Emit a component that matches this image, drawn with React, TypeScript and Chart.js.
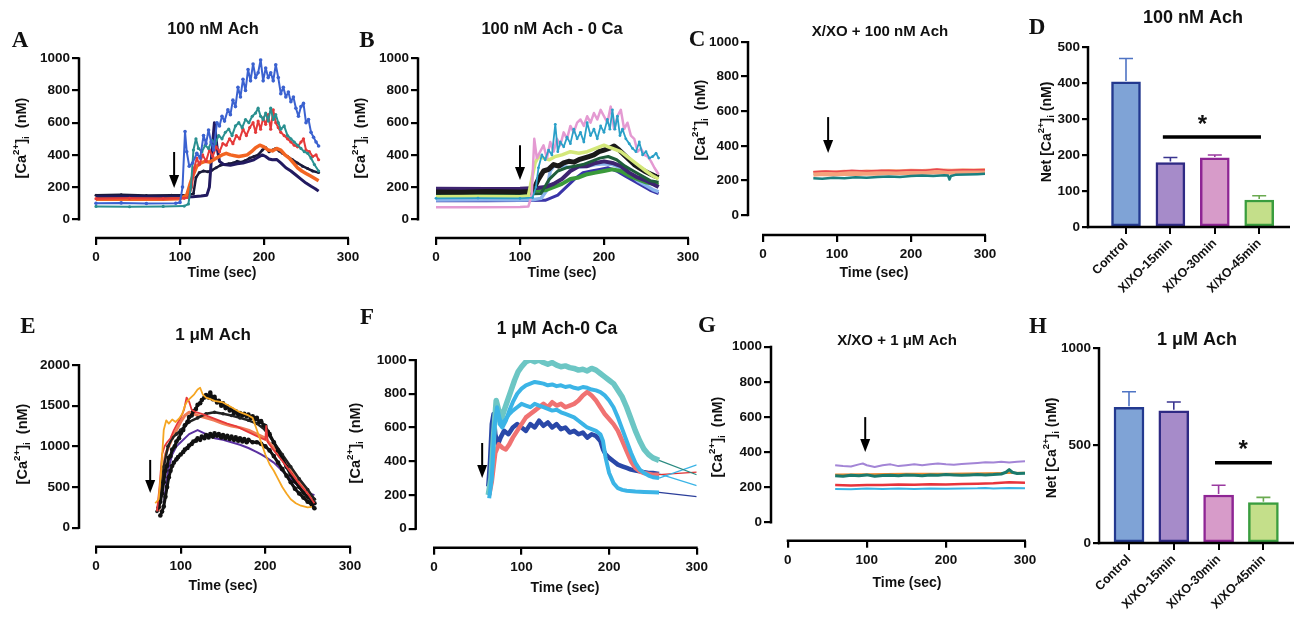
import React, { useEffect, useRef } from 'react';
import { Chart, registerables } from 'chart.js';

Chart.register(...registerables);
Chart.defaults.font.family = '"Liberation Sans", Arial, Helvetica, sans-serif';
Chart.defaults.color = '#111';

type Pt = [number, number];

// ---------------- Panel A : 100 nM Ach ----------------
const aBlue: Pt[] = [[0,100],[30,102],[60,98],[95,100],[100,105],[103,200],[106,545],[108,420],[111,330],[115,350],[120,410],[124,380],[128,520],[131,470],[134,555],[137,480],[140,430],[144,600],[147,580],[150,640],[153,610],[157,680],[160,650],[163,740],[166,700],[169,820],[172,760],[175,870],[178,800],[181,930],[184,860],[187,965],[190,880],[193,910],[196,990],[199,860],[202,940],[205,880],[208,910],[211,860],[214,960],[217,880],[220,780],[223,820],[226,760],[229,790],[232,730],[235,760],[238,690],[241,640],[244,700],[247,720],[250,600],[253,620],[256,540],[259,510],[262,480],[265,455]];
const aTeal: Pt[] = [[0,80],[40,78],[80,80],[105,82],[110,95],[113,200],[116,430],[119,500],[122,440],[126,420],[130,460],[134,440],[138,490],[142,470],[146,520],[150,500],[154,540],[158,560],[162,520],[166,580],[170,600],[174,570],[178,620],[182,600],[186,640],[190,660],[193,690],[196,640],[199,620],[202,660],[205,610],[208,690],[211,620],[214,650],[217,600],[220,560],[224,580],[228,520],[232,500],[236,480],[240,460],[244,440],[248,420],[252,410],[256,380],[260,340],[265,300]];
const aRed: Pt[] = [[0,128],[40,130],[80,128],[105,130],[110,135],[114,200],[117,320],[120,380],[123,340],[127,400],[131,360],[135,430],[139,390],[143,450],[147,420],[151,470],[155,460],[159,500],[163,470],[167,520],[171,500],[175,560],[179,520],[183,570],[187,600],[190,540],[193,610],[196,560],[199,630],[202,590],[205,650],[208,560],[211,680],[214,600],[217,570],[220,540],[224,520],[228,500],[232,480],[236,460],[240,450],[244,480],[247,500],[250,430],[254,420],[258,390],[262,400],[265,370]];
const aOrange: Pt[] = [[0,125],[40,125],[80,125],[100,128],[108,150],[112,220],[116,280],[120,330],[125,350],[130,360],[135,355],[140,370],[145,385],[150,400],[155,410],[160,400],[165,395],[170,390],[175,395],[180,400],[185,420],[190,445],[195,460],[200,450],[205,430],[210,425],[215,440],[220,430],[225,400],[230,380],[235,350],[240,320],[245,300],[250,285],[255,270],[260,255],[265,240]];
const aNavy: Pt[] = [[0,140],[40,140],[80,138],[105,138],[115,140],[125,145],[132,150],[135,200],[138,420],[141,600],[144,450],[147,360],[152,340],[160,335],[168,345],[175,350],[182,360],[188,370],[193,385],[198,400],[202,390],[206,375],[210,370],[215,372],[220,350],[226,320],[232,300],[238,275],[244,250],[250,225],[256,205],[261,190],[265,175]];
const aBlack: Pt[] = [[0,150],[30,152],[60,148],[90,150],[110,150],[116,160],[119,260],[123,290],[128,300],[133,295],[138,305],[143,320],[148,335],[153,340],[158,345],[163,350],[168,360],[173,355],[178,365],[183,380],[188,390],[193,400],[198,430],[202,445],[206,420],[210,430],[214,440],[218,425],[222,410],[228,390],[234,370],[240,350],[246,330],[252,315],[258,300],[265,290]];
const aArrow = [93, 418, 194];

// ---------------- Panel B : 100 nM Ach - 0 Ca ----------------
const bPink: Pt[] = [[0,75],[50,75],[100,76],[110,80],[114,150],[117,500],[120,380],[124,420],[128,460],[132,380],[136,480],[140,420],[144,500],[148,460],[152,540],[156,500],[160,580],[164,540],[168,600],[172,620],[176,580],[180,640],[184,600],[188,660],[192,620],[196,680],[200,640],[204,600],[208,700],[212,560],[216,640],[220,680],[224,560],[228,600],[232,520],[236,500],[240,420],[244,440],[248,400],[252,390],[256,360],[260,320],[265,280]];
const bCyan: Pt[] = [[0,130],[50,132],[100,130],[115,135],[119,200],[122,320],[126,400],[130,370],[134,430],[138,400],[142,590],[145,420],[148,480],[152,450],[156,510],[160,470],[164,560],[168,500],[172,540],[176,480],[180,600],[184,520],[188,560],[192,500],[196,580],[200,540],[204,620],[207,560],[210,680],[213,560],[216,640],[219,520],[222,560],[226,500],[230,470],[234,440],[238,420],[242,480],[246,400],[250,420],[254,380],[258,390],[262,410],[265,380]];
const bLime: Pt[] = [[0,140],[50,142],[100,140],[110,145],[114,250],[118,350],[122,390],[128,380],[135,370],[142,390],[150,400],[160,420],[170,410],[180,420],[190,440],[200,460],[205,450],[210,440],[220,420],[230,380],[240,340],[250,300],[258,270],[265,250]];
const bBlack: Pt[] = [[0,170],[30,168],[60,172],[100,170],[115,172],[122,250],[128,300],[134,310],[140,340],[146,330],[152,350],[158,360],[164,355],[170,370],[176,380],[182,390],[188,400],[194,420],[200,430],[206,440],[212,455],[218,430],[224,400],[230,370],[236,340],[242,320],[248,300],[254,285],[260,270],[265,260]];
const bDarkGreen: Pt[] = [[0,155],[100,155],[125,160],[135,250],[145,300],[155,320],[165,330],[175,340],[185,360],[195,380],[205,390],[215,370],[225,330],[235,300],[245,270],[255,240],[265,230]];
const bPurple: Pt[] = [[0,190],[60,188],[100,190],[120,195],[130,200],[140,220],[150,250],[160,300],[170,330],[180,330],[190,350],[200,360],[210,350],[220,330],[230,290],[240,260],[250,240],[258,220],[265,200]];
const bGreen: Pt[] = [[0,178],[60,180],[100,178],[130,180],[140,200],[150,220],[160,250],[170,260],[180,280],[190,290],[200,300],[210,310],[220,300],[230,270],[240,250],[250,230],[258,220],[265,215]];
const bLightBlue: Pt[] = [[0,120],[60,122],[100,120],[115,122],[125,130],[132,180],[136,300],[140,330],[150,330],[160,320],[170,325],[180,330],[190,340],[200,345],[210,340],[220,320],[230,280],[240,240],[250,210],[258,185],[265,170]];
const bNavy: Pt[] = [[0,115],[60,115],[100,116],[130,118],[145,150],[155,200],[165,250],[175,290],[185,300],[195,310],[205,320],[215,300],[225,270],[235,240],[245,210],[255,180],[265,160]];
const bArrow = [100, 460, 244];

// ---------------- Panel C : X/XO + 100 nM Ach ----------------
const cTeal: Pt[] = [[68,212],[80,210],[95,215],[110,212],[125,218],[140,215],[155,220],[170,222],[185,220],[200,225],[215,228],[230,226],[245,230],[250,228],[252,205],[254,225],[260,232],[275,234],[290,236],[300,238]];
const cRed: Pt[] = [[68,250],[85,255],[100,252],[120,258],[140,255],[160,258],[180,256],[200,260],[220,258],[235,266],[250,258],[270,262],[300,262]];
const cSalmon: Pt[] = [[68,238],[80,242],[95,240],[110,244],[125,242],[140,246],[155,244],[170,248],[185,247],[200,250],[215,249],[230,252],[245,251],[255,250],[270,253],[285,252],[300,254]];
const cLightBlue: Pt[] = [[68,235],[100,240],[150,242],[200,248],[240,250],[250,258],[270,255],[300,258]];
const cArrow = [88, 566, 358];

// ---------------- Panel D / H : bar summaries ----------------
const barCategories = ['Control', 'X/XO-15min', 'X/XO-30min', 'X/XO-45min'];
const dMeans = [403, 179, 192, 75];
const dErrors = [65, 14, 8, 12];
const dSignificance = [0.83, 3.04, 250, 1.72];
const hMeans = [696, 678, 246, 207];
const hErrors = [80, 45, 50, 27];
const hSignificance = [1.92, 3.19, 412, 2.55];

// ---------------- Panel E : 1 uM Ach ----------------
const eOrange: Pt[] = [[70,300],[74,350],[77,700],[80,1200],[83,1320],[86,1280],[90,1330],[94,1300],[98,1340],[102,1400],[105,1500],[108,1560],[112,1600],[116,1640],[120,1700],[123,1720],[126,1640],[130,1600],[135,1580],[140,1560],[150,1540],[160,1480],[170,1420],[180,1380],[185,1350],[190,1200],[195,1050],[200,900],[205,780],[210,700],[215,600],[220,500],[225,420],[230,350],[236,300],[242,270],[250,250],[255,255]];
const eRed: Pt[] = [[72,200],[75,500],[78,900],[81,1000],[84,1050],[88,1100],[92,1200],[96,1280],[100,1350],[104,1450],[107,1600],[110,1550],[113,1450],[118,1420],[125,1400],[135,1360],[145,1320],[155,1280],[165,1250],[175,1200],[185,1150],[195,1100],[200,1080],[201,1250],[203,1050],[210,950],[220,820],[230,680],[240,540],[250,420],[258,300]];
const eBlack1: Pt[] = [[74,250],[76,320],[78,420],[80,560],[82,700],[84,760],[86,860],[88,880],[90,960],[93,1000],[95,1060],[98,1100],[100,1160],[103,1200],[105,1260],[108,1300],[110,1360],[113,1380],[115,1430],[118,1460],[120,1510],[123,1530],[125,1570],[128,1600],[130,1630],[133,1600],[135,1660],[138,1580],[140,1610],[143,1540],[145,1560],[148,1500],[150,1530],[153,1470],[155,1490],[158,1440],[160,1460],[163,1410],[165,1430],[168,1390],[170,1410],[173,1380],[175,1400],[178,1370],[180,1390],[183,1350],[185,1370],[188,1330],[190,1350],[193,1300],[195,1310],[198,1260],[200,1250],[203,1180],[205,1150],[210,1050],[215,950],[220,850],[225,750],[230,650],[235,570],[240,500],[245,430],[250,380],[255,330],[258,300]];
const eBlack2: Pt[] = [[76,150],[78,200],[80,260],[82,380],[84,500],[86,620],[88,700],[90,760],[92,800],[95,840],[97,870],[100,900],[103,930],[105,960],[108,980],[110,1010],[113,1030],[115,1060],[118,1070],[120,1100],[123,1080],[125,1120],[128,1100],[130,1140],[133,1110],[135,1150],[138,1120],[140,1160],[143,1130],[145,1150],[148,1110],[150,1140],[153,1100],[155,1130],[158,1090],[160,1120],[163,1080],[165,1110],[168,1070],[170,1100],[173,1060],[175,1090],[178,1050],[180,1080],[185,1050],[190,1050],[195,1030],[200,1000],[205,950],[210,880],[215,800],[220,720],[225,640],[230,560],[235,480],[240,420],[245,370],[250,320],[255,280],[258,240]];
const eBlack3: Pt[] = [[72,200],[76,350],[80,750],[85,1000],[90,1100],[95,1150],[100,1200],[110,1300],[120,1350],[130,1400],[140,1420],[150,1400],[160,1380],[170,1350],[180,1320],[190,1280],[200,1200],[210,1050],[220,900],[230,750],[240,600],[250,470],[258,350]];
const eCoral: Pt[] = [[74,200],[78,600],[82,900],[86,1000],[90,1100],[95,1200],[100,1300],[105,1380],[110,1420],[120,1380],[130,1350],[140,1320],[150,1280],[160,1250],[170,1230],[180,1200],[190,1150],[200,1100],[210,980],[220,850],[230,700],[240,560],[250,430],[258,330]];
const ePurple: Pt[] = [[80,300],[85,700],[90,900],[95,1000],[100,1050],[110,1150],[120,1200],[130,1150],[140,1100],[150,1080],[160,1050],[170,1020],[180,980],[190,930],[195,900],[200,870],[210,800],[220,700],[230,600],[240,500],[250,430],[258,400]];
const eArrow = [64, 833, 427];

// ---------------- Panel F : 1 uM Ach - 0 Ca ----------------
const fSkyLow: Pt[] = [[63,180],[66,300],[69,600],[72,720],[75,650],[78,620],[82,650],[86,680],[90,700],[95,720],[100,740],[105,730],[110,720],[115,740],[120,730],[125,720],[130,710],[135,700],[140,705],[145,690],[150,680],[155,670],[160,660],[165,640],[170,620],[175,600],[180,590],[185,580],[190,560],[193,520],[196,420],[200,330],[205,270],[210,240],[215,230],[220,225],[230,220],[240,218],[250,216],[257,215],[300,190]];
const fTeal: Pt[] = [[62,200],[65,300],[68,550],[71,760],[74,700],[77,650],[80,700],[84,760],[88,820],[92,880],[96,930],[100,960],[105,990],[110,1000],[115,990],[120,1000],[125,985],[130,975],[135,985],[140,970],[145,960],[150,965],[155,955],[160,950],[165,940],[170,945],[175,935],[180,950],[185,940],[190,920],[195,900],[200,880],[205,860],[210,820],[215,780],[220,720],[225,650],[230,580],[235,520],[240,470],[245,440],[250,420],[257,405],[300,320]];
const fSkyHigh: Pt[] = [[63,200],[66,350],[69,650],[72,700],[75,620],[78,600],[82,640],[86,700],[90,750],[95,800],[100,830],[105,850],[110,860],[115,870],[120,865],[125,860],[130,850],[135,855],[140,845],[145,850],[150,840],[155,845],[160,835],[165,830],[170,840],[175,835],[180,825],[185,820],[190,810],[195,790],[200,760],[205,720],[210,660],[215,590],[220,520],[225,450],[230,390],[235,350],[240,330],[245,315],[250,305],[257,300],[300,378]];
const fRed: Pt[] = [[63,200],[66,280],[70,450],[74,500],[78,480],[82,470],[86,500],[90,540],[95,580],[100,620],[105,660],[110,680],[115,700],[120,720],[125,740],[130,720],[135,750],[140,730],[145,740],[150,720],[155,730],[160,740],[165,760],[170,790],[175,810],[180,790],[185,760],[190,720],[195,680],[200,650],[205,620],[210,580],[215,520],[220,460],[225,400],[230,360],[235,340],[240,330],[245,325],[250,320],[257,320],[300,335]];
const fNavy: Pt[] = [[62,250],[64,400],[66,620],[68,680],[70,560],[73,500],[76,540],[80,580],[85,560],[90,600],[95,620],[100,600],[105,580],[110,620],[115,600],[120,640],[125,610],[130,630],[135,600],[140,620],[145,590],[150,600],[155,570],[160,580],[165,560],[170,570],[175,540],[180,560],[185,550],[190,520],[193,470],[196,440],[200,420],[205,400],[210,380],[215,370],[220,360],[225,350],[230,345],[235,340],[240,335],[245,330],[250,330],[257,325],[300,255]];
const fArrow = [55, 508, 300];

// ---------------- Panel G : X/XO + 1 uM Ach ----------------
const gPurple: Pt[] = [[60,325],[70,320],[80,318],[90,330],[95,335],[100,325],[110,315],[120,325],[130,330],[140,320],[150,325],[160,330],[170,325],[180,330],[190,335],[200,330],[210,328],[220,332],[230,335],[240,338],[250,342],[260,340],[270,345],[280,340],[290,345],[300,348]];
const gTeal: Pt[] = [[60,265],[70,262],[80,268],[90,265],[100,270],[110,262],[120,266],[130,268],[140,265],[150,270],[160,268],[170,265],[180,270],[190,268],[200,272],[210,270],[220,268],[230,270],[240,272],[250,270],[260,272],[270,275],[276,285],[280,300],[284,285],[290,278],[300,280]];
const gOrange: Pt[] = [[60,272],[100,274],[150,276],[200,277],[250,279],[300,282]];
const gRed: Pt[] = [[60,212],[80,210],[100,213],[120,212],[140,215],[160,214],[180,216],[200,215],[220,218],[240,220],[260,222],[280,228],[300,225]];
const gSky: Pt[] = [[60,190],[80,188],[100,192],[120,190],[140,193],[160,190],[180,192],[200,191],[220,193],[240,194],[250,196],[260,193],[280,195],[300,194]];
const gArrow = [98, 599, 400];

const timeTicks = [0, 100, 200, 300];

// ======================================================================
const FONT = '"Liberation Sans", Arial, Helvetica, sans-serif';
const SERIF = '"Liberation Serif", "Times New Roman", serif';

function drawYTitle(ctx: any, cx: number, cy: number, prefix: string, size: number, gap: string) {
  const parts = [
    { t: prefix + '[Ca', s: size, dy: 0 },
    { t: '2+', s: size * 0.68, dy: -size * 0.42 },
    { t: ']', s: size, dy: 0 },
    { t: 'i', s: size * 0.68, dy: size * 0.32 },
    { t: gap + '(nM)', s: size, dy: 0 },
  ];
  ctx.save();
  ctx.translate(cx, cy);
  ctx.rotate(-Math.PI / 2);
  ctx.textBaseline = 'middle';
  ctx.textAlign = 'left';
  ctx.fillStyle = '#111';
  let total = 0;
  for (const p of parts) { ctx.font = `bold ${p.s}px ${FONT}`; total += ctx.measureText(p.t).width; }
  let x = -total / 2;
  for (const p of parts) {
    ctx.font = `bold ${p.s}px ${FONT}`;
    ctx.fillText(p.t, x, p.dy);
    x += ctx.measureText(p.t).width;
  }
  ctx.restore();
}

function drawArrow(ctx: any, x: number, yTop: number, yTip: number) {
  ctx.save();
  ctx.strokeStyle = '#000';
  ctx.fillStyle = '#000';
  ctx.lineWidth = 2;
  ctx.beginPath(); ctx.moveTo(x, yTop); ctx.lineTo(x, yTip - 10); ctx.stroke();
  ctx.beginPath(); ctx.moveTo(x - 5, yTip - 13); ctx.lineTo(x + 5, yTip - 13); ctx.lineTo(x, yTip); ctx.closePath(); ctx.fill();
  ctx.restore();
}

function fixedTicks(values: number[]) {
  return (axis: any) => { axis.ticks = values.map((v) => ({ value: v })); };
}

function stepValues(step: number, max: number) {
  const out: number[] = [];
  for (let v = 0; v <= max + 1e-6; v += step) out.push(v);
  return out;
}

interface Series { data: Pt[]; color: string; width: number; point?: number; tailFrom?: number; tailColor?: string }

interface LinePanel {
  box: number[];
  axisX: number; x0: number; x300: number; yTop: number; y0: number; xAxisY: number;
  yMax: number; yStep: number;
  series: Series[];
  arrow: number[];
  title: string; titleSize: number; titleX: number; titleY: number;
  letter: string; letterX: number; letterY: number;
  yTitleX: number; yTitleY: number;
  xTitleX: number; xTitleY: number;
}

const tickFont = { size: 13.5, weight: 'bold' as const };
const plainLabel = (v: any) => String(v);

function lineConfig(p: LinePanel): any {
  const [L, T, W, H] = p.box;
  const pxX = (p.x300 - p.x0) / 300;
  const xMin = (p.axisX - p.x0) / pxX;
  const pxY = (p.y0 - p.yTop) / p.yMax;
  const yMin = -(p.xAxisY - p.y0) / pxY;
  const deco = {
    id: 'deco',
    afterDraw(chart: any) {
      const ctx = chart.ctx; const xs = chart.scales.x; const ys = chart.scales.y; const a = chart.chartArea;
      ctx.save();
      ctx.strokeStyle = '#000'; ctx.lineWidth = 2.5;
      ctx.beginPath(); ctx.moveTo(a.left, ys.getPixelForValue(0) + 1.2); ctx.lineTo(a.left, ys.getPixelForValue(p.yMax) - 1); ctx.stroke();
      ctx.beginPath(); ctx.moveTo(xs.getPixelForValue(0) - 1, a.bottom); ctx.lineTo(xs.getPixelForValue(300) + 1, a.bottom); ctx.stroke();
      drawArrow(ctx, xs.getPixelForValue(p.arrow[0]), ys.getPixelForValue(p.arrow[1]), ys.getPixelForValue(p.arrow[2]));
      ctx.fillStyle = '#111'; ctx.textAlign = 'center'; ctx.textBaseline = 'middle';
      ctx.font = `bold ${p.titleSize}px ${FONT}`; ctx.fillText(p.title, p.titleX - L, p.titleY - T);
      ctx.font = `bold 14px ${FONT}`; ctx.fillText('Time (sec)', p.xTitleX - L, p.xTitleY - T);
      ctx.font = `bold 23px ${SERIF}`; ctx.fillText(p.letter, p.letterX - L, p.letterY - T);
      drawYTitle(ctx, p.yTitleX - L, p.yTitleY - T, '', 14.5, '  ');
      ctx.restore();
    },
  };
  return {
    type: 'line',
    data: {
      datasets: p.series.map((s) => ({
        data: s.data.map(([x, y]) => ({ x, y })),
        borderColor: s.color,
        backgroundColor: s.color,
        borderWidth: s.width,
        pointRadius: s.point || 0,
        pointBorderWidth: 0,
        pointHoverRadius: 0,
        tension: 0,
        fill: false,
        borderJoinStyle: 'round',
        segment: s.tailFrom != null ? {
          borderWidth: (c: any) => (c.p0.parsed.x >= (s.tailFrom as number) - 0.01 ? 1.2 : undefined),
          borderColor: (c: any) => (c.p0.parsed.x >= (s.tailFrom as number) - 0.01 ? s.tailColor || s.color : undefined),
        } : undefined,
      })),
    },
    options: {
      responsive: false,
      animation: false,
      devicePixelRatio: 1,
      events: [],
      layout: { padding: { left: 0, top: p.yTop - T, right: L + W - p.x300, bottom: 0 } },
      plugins: { legend: { display: false }, tooltip: { enabled: false }, title: { display: false } },
      scales: {
        x: {
          type: 'linear', min: xMin, max: 300, offset: false,
          afterBuildTicks: fixedTicks(timeTicks),
          afterFit: (a: any) => { a.height = T + H - p.xAxisY; },
          ticks: { maxRotation: 0, minRotation: 0, autoSkip: false, padding: 4, color: '#111', font: tickFont, callback: plainLabel },
          grid: { drawOnChartArea: false, drawTicks: true, tickLength: 7, tickWidth: 2.2, tickColor: '#000', color: '#000', lineWidth: 2.2, offset: false },
          border: { display: false },
        },
        y: {
          type: 'linear', min: yMin, max: p.yMax,
          afterBuildTicks: fixedTicks(stepValues(p.yStep, p.yMax)),
          afterFit: (a: any) => { a.width = p.axisX - L; },
          ticks: { autoSkip: false, padding: 2, color: '#111', font: tickFont, callback: plainLabel },
          grid: { drawOnChartArea: false, drawTicks: true, tickLength: 7, tickWidth: 2.2, tickColor: '#000', color: '#000', lineWidth: 2.2 },
          border: { display: false },
        },
      },
    },
    plugins: [deco],
  };
}

interface BarPanel {
  box: number[];
  axisX: number; cat0: number; catStep: number; xRight: number; yTop: number; y0: number;
  yMax: number; yStep: number; barWidth: number;
  means: number[]; errors: number[]; sig: number[];
  fills: string[]; borders: string[]; errColors: string[];
  title: string; titleSize: number; titleX: number; titleY: number;
  letter: string; letterX: number; letterY: number;
  yTitleX: number; yTitleY: number;
}

function barConfig(p: BarPanel): any {
  const [L, T, W, H] = p.box;
  const xMin = (p.axisX - p.cat0) / p.catStep;
  const xMax = (p.xRight - p.cat0) / p.catStep;
  const deco = {
    id: 'deco',
    afterDraw(chart: any) {
      const ctx = chart.ctx; const xs = chart.scales.x; const ys = chart.scales.y; const a = chart.chartArea;
      ctx.save();
      p.means.forEach((m, i) => {
        const x = xs.getPixelForValue(i);
        const yb = ys.getPixelForValue(m);
        const yt = ys.getPixelForValue(m + p.errors[i]);
        ctx.strokeStyle = p.errColors[i]; ctx.lineWidth = 1.6;
        ctx.beginPath(); ctx.moveTo(x, yb - 1); ctx.lineTo(x, yt); ctx.moveTo(x - 7, yt); ctx.lineTo(x + 7, yt); ctx.stroke();
      });
      ctx.strokeStyle = '#000'; ctx.lineWidth = 2.5;
      ctx.beginPath(); ctx.moveTo(a.left, ys.getPixelForValue(0) + 1.2); ctx.lineTo(a.left, ys.getPixelForValue(p.yMax) - 1); ctx.stroke();
      ctx.beginPath(); ctx.moveTo(a.left - 1, a.bottom); ctx.lineTo(a.right, a.bottom); ctx.stroke();
      const sy = ys.getPixelForValue(p.sig[2]);
      ctx.lineWidth = 3.5;
      ctx.beginPath(); ctx.moveTo(xs.getPixelForValue(p.sig[0]), sy); ctx.lineTo(xs.getPixelForValue(p.sig[1]), sy); ctx.stroke();
      ctx.fillStyle = '#111'; ctx.textAlign = 'center'; ctx.textBaseline = 'middle';
      ctx.font = `bold 24px ${FONT}`;
      ctx.fillText('*', xs.getPixelForValue(p.sig[3]), sy - 12);
      ctx.font = `bold ${p.titleSize}px ${FONT}`; ctx.fillText(p.title, p.titleX - L, p.titleY - T);
      ctx.font = `bold 23px ${SERIF}`; ctx.fillText(p.letter, p.letterX - L, p.letterY - T);
      drawYTitle(ctx, p.yTitleX - L, p.yTitleY - T, 'Net ', 14, ' ');
      ctx.restore();
    },
  };
  return {
    type: 'bar',
    data: {
      datasets: [{
        data: p.means.map((m, i) => ({ x: i, y: m })),
        backgroundColor: p.fills,
        borderColor: p.borders,
        borderWidth: 2.5,
        borderSkipped: false,
        barThickness: p.barWidth,
      }],
    },
    options: {
      responsive: false,
      animation: false,
      devicePixelRatio: 1,
      events: [],
      layout: { padding: { left: 0, top: p.yTop - T, right: L + W - p.xRight, bottom: 0 } },
      plugins: { legend: { display: false }, tooltip: { enabled: false }, title: { display: false } },
      scales: {
        x: {
          type: 'linear', min: xMin, max: xMax, offset: false,
          afterBuildTicks: fixedTicks(barCategories.map((_, i) => i)),
          afterFit: (a: any) => { a.height = T + H - p.y0; },
          ticks: { minRotation: 45, maxRotation: 45, autoSkip: false, padding: 2, color: '#111', font: { size: 12.5, weight: 'bold' }, callback: (v: any) => barCategories[v] },
          grid: { drawOnChartArea: false, drawTicks: true, tickLength: 7, tickWidth: 2, tickColor: '#000', color: '#000', lineWidth: 2, offset: false },
          border: { display: false },
        },
        y: {
          type: 'linear', min: 0, max: p.yMax,
          afterBuildTicks: fixedTicks(stepValues(p.yStep, p.yMax)),
          afterFit: (a: any) => { a.width = p.axisX - L; },
          ticks: { autoSkip: false, padding: 2, color: '#111', font: tickFont, callback: plainLabel },
          grid: { drawOnChartArea: false, drawTicks: true, tickLength: 6, tickWidth: 2.2, tickColor: '#000', color: '#000', lineWidth: 2.2 },
          border: { display: false },
        },
      },
    },
    plugins: [deco],
  };
}

const panelA: LinePanel = {
  box: [0, 0, 375, 295], axisX: 79, x0: 96, x300: 348, yTop: 58.3, y0: 219.3, xAxisY: 238, yMax: 1000, yStep: 200,
  series: [
    { data: aBlue, color: '#3b62d0', width: 2, point: 1.8 },
    { data: aTeal, color: '#2a9090', width: 2, point: 1.6 },
    { data: aRed, color: '#e53a3a', width: 2, point: 1.6 },
    { data: aOrange, color: '#f26522', width: 3.5 },
    { data: aNavy, color: '#221a60', width: 3 },
    { data: aBlack, color: '#1a1a3a', width: 2.5, point: 1.5 },
  ],
  arrow: aArrow, title: '100 nM Ach', titleSize: 16.5, titleX: 213, titleY: 29,
  letter: 'A', letterX: 20, letterY: 41, yTitleX: 22, yTitleY: 138, xTitleX: 222, xTitleY: 273,
};

const panelB: LinePanel = {
  box: [345, 0, 375, 295], axisX: 418, x0: 436, x300: 688, yTop: 58.3, y0: 219.3, xAxisY: 238, yMax: 1000, yStep: 200,
  series: [
    { data: bCyan, color: '#2ba0c8', width: 1.8, point: 1.4 },
    { data: bPink, color: '#e49ad2', width: 2.5 },
    { data: bLime, color: '#d4e87a', width: 3.5 },
    { data: bBlack, color: '#1a1a1a', width: 5 },
    { data: bDarkGreen, color: '#1e5e3a', width: 3 },
    { data: bPurple, color: '#3e2470', width: 4 },
    { data: bGreen, color: '#3a9a3a', width: 4 },
    { data: bLightBlue, color: '#8ab4ec', width: 3.5 },
    { data: bNavy, color: '#3a34a8', width: 3 },
  ],
  arrow: bArrow, title: '100 nM Ach - 0 Ca', titleSize: 16.5, titleX: 552, titleY: 29,
  letter: 'B', letterX: 367, letterY: 41, yTitleX: 361, yTitleY: 138, xTitleX: 562, xTitleY: 273,
};

const panelC: LinePanel = {
  box: [680, 0, 335, 295], axisX: 748, x0: 763, x300: 985, yTop: 42, y0: 215, xAxisY: 235, yMax: 1000, yStep: 200,
  series: [
    { data: cRed, color: '#e8484e', width: 1.5 },
    { data: cTeal, color: '#1a8080', width: 2.5 },
    { data: cSalmon, color: '#f5a27c', width: 6 },
    { data: cLightBlue, color: '#8fd0e0', width: 1.5 },
  ],
  arrow: cArrow, title: 'X/XO + 100 nM Ach', titleSize: 15, titleX: 880, titleY: 32,
  letter: 'C', letterX: 697, letterY: 40, yTitleX: 701, yTitleY: 120, xTitleX: 874, xTitleY: 273,
};

const panelE: LinePanel = {
  box: [0, 300, 380, 322], axisX: 79, x0: 96, x300: 350, yTop: 365, y0: 527.7, xAxisY: 546.7, yMax: 2000, yStep: 500,
  series: [
    { data: eOrange, color: '#f5a623', width: 1.8 },
    { data: eRed, color: '#e83a3a', width: 1.8 },
    { data: eBlack1, color: '#111111', width: 3, point: 2.3 },
    { data: eBlack2, color: '#111111', width: 3, point: 2.3 },
    { data: eBlack3, color: '#222222', width: 2.5, point: 1.8 },
    { data: eCoral, color: '#f07c58', width: 3 },
    { data: ePurple, color: '#5a30a0', width: 2 },
  ],
  arrow: eArrow, title: '1 μM Ach', titleSize: 17, titleX: 213, titleY: 335,
  letter: 'E', letterX: 28, letterY: 327, yTitleX: 23, yTitleY: 444, xTitleX: 223, xTitleY: 586,
};

const panelF: LinePanel = {
  box: [345, 300, 385, 322], axisX: 415.7, x0: 434, x300: 696.7, yTop: 360, y0: 528.7, xAxisY: 547.7, yMax: 1000, yStep: 200,
  series: [
    { data: fSkyLow, color: '#3bb4e6', width: 4, tailFrom: 257, tailColor: '#2a3e9a' },
    { data: fTeal, color: '#6cc6c4', width: 5.5, tailFrom: 257, tailColor: '#2a8a80' },
    { data: fSkyHigh, color: '#3bb4e6', width: 4, tailFrom: 257 },
    { data: fRed, color: '#f07272', width: 4.5, tailFrom: 257, tailColor: '#e03030' },
    { data: fNavy, color: '#2a48a8', width: 4.5, tailFrom: 257, tailColor: '#3bb4e6' },
  ],
  arrow: fArrow, title: '1 μM Ach-0 Ca', titleSize: 17.5, titleX: 557, titleY: 329,
  letter: 'F', letterX: 367, letterY: 318, yTitleX: 356, yTitleY: 443, xTitleX: 565, xTitleY: 588,
};

const panelG: LinePanel = {
  box: [695, 310, 360, 312], axisX: 771, x0: 787.7, x300: 1025, yTop: 346.7, y0: 522.3, xAxisY: 540.7, yMax: 1000, yStep: 200,
  series: [
    { data: gPurple, color: '#a385d6', width: 2 },
    { data: gTeal, color: '#1b7a6c', width: 3 },
    { data: gOrange, color: '#f08a30', width: 2 },
    { data: gRed, color: '#e8343c', width: 2.5 },
    { data: gSky, color: '#3ab4e4', width: 2 },
  ],
  arrow: gArrow, title: 'X/XO + 1 μM Ach', titleSize: 15, titleX: 897, titleY: 341,
  letter: 'G', letterX: 707, letterY: 326, yTitleX: 718, yTitleY: 437, xTitleX: 907, xTitleY: 583,
};

const barFills = ['#7fa3d6', '#a68bc9', '#d79bc9', '#c4df8a'];
const barBorders = ['#23398f', '#2f2a84', '#8e2594', '#3a9d3e'];
const errColors = ['#4f74c4', '#3a3590', '#9a3aa0', '#6aaa50'];

const panelD: BarPanel = {
  box: [1000, 0, 295, 320], axisX: 1088, cat0: 1126, catStep: 44.4, xRight: 1290, yTop: 47, y0: 227,
  yMax: 500, yStep: 100, barWidth: 29, means: dMeans, errors: dErrors, sig: dSignificance,
  fills: barFills, borders: barBorders, errColors,
  title: '100 nM Ach', titleSize: 18, titleX: 1193, titleY: 18,
  letter: 'D', letterX: 1037, letterY: 28, yTitleX: 1047, yTitleY: 132,
};

const panelH: BarPanel = {
  box: [1000, 315, 295, 307], axisX: 1099, cat0: 1129, catStep: 44.8, xRight: 1294, yTop: 348, y0: 543,
  yMax: 1000, yStep: 500, barWidth: 30, means: hMeans, errors: hErrors, sig: hSignificance,
  fills: barFills, borders: barBorders, errColors,
  title: '1 μM Ach', titleSize: 18, titleX: 1197, titleY: 340,
  letter: 'H', letterX: 1038, letterY: 327, yTitleX: 1052, yTitleY: 448,
};

function ChartCanvas({ box, build }: { box: number[]; build: () => any }) {
  const ref = useRef<HTMLCanvasElement | null>(null);
  useEffect(() => {
    const chart = new Chart(ref.current as HTMLCanvasElement, build());
    return () => chart.destroy();
  }, []);
  return (
    <canvas
      ref={ref}
      width={box[2]}
      height={box[3]}
      style={{ position: 'absolute', left: box[0], top: box[1], width: box[2], height: box[3] }}
    />
  );
}

export default function App() {
  return (
    <div style={{ position: 'absolute', left: 0, top: 0, width: 1295, height: 622, background: '#fff', overflow: 'hidden' }}>
      <ChartCanvas box={panelA.box} build={() => lineConfig(panelA)} />
      <ChartCanvas box={panelB.box} build={() => lineConfig(panelB)} />
      <ChartCanvas box={panelC.box} build={() => lineConfig(panelC)} />
      <ChartCanvas box={panelD.box} build={() => barConfig(panelD)} />
      <ChartCanvas box={panelE.box} build={() => lineConfig(panelE)} />
      <ChartCanvas box={panelF.box} build={() => lineConfig(panelF)} />
      <ChartCanvas box={panelG.box} build={() => lineConfig(panelG)} />
      <ChartCanvas box={panelH.box} build={() => barConfig(panelH)} />
    </div>
  );
}
